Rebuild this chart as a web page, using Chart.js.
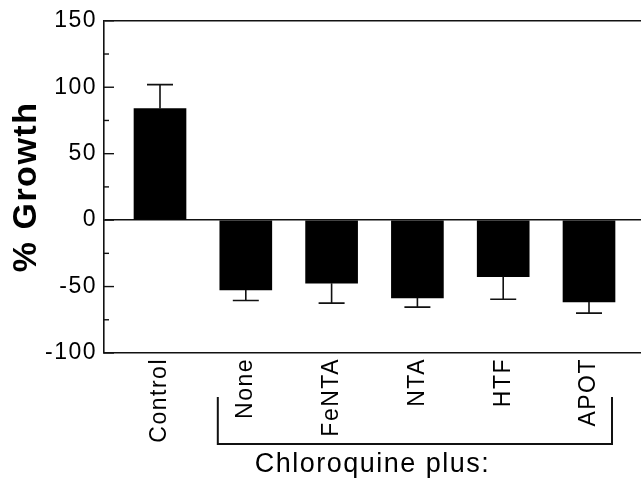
<!DOCTYPE html>
<html><head><meta charset="utf-8">
<script src="https://cdn.jsdelivr.net/npm/chart.js@4.4.1/dist/chart.umd.min.js"></script>
<style>html,body{margin:0;padding:0;background:#fff}#wrap{width:641px;height:483px;position:relative}</style>
</head><body><div id="wrap"><canvas id="c"></canvas></div>
<script>
const categories = ['Control', 'None', 'FeNTA', 'NTA', 'HTF', 'APOT'];
const growth = [84, -52.5, -47.5, -58.5, -42.5, -61.5];
const growthErr = [18, 8, 15, 7, 17, 8.5];
const yMajorTicks = [-100, -50, 0, 50, 100, 150];
const yTitle = '% Growth';
const groupLabel = 'Chloroquine plus:';
const bracketFrom = 1, bracketTo = 5;

const INK = '#111';
const FONT = "'Liberation Sans', Arial, Helvetica, sans-serif";

const spacing = {
  id: 'spacing',
  beforeDraw(chart) { chart.ctx.letterSpacing = '1.5px'; },
  afterDraw(chart) { chart.ctx.letterSpacing = '0px'; }
};

const errorBars = {
  id: 'errorBars',
  afterDatasetsDraw(chart) {
    const ctx = chart.ctx, y = chart.scales.y;
    const meta = chart.getDatasetMeta(0);
    ctx.save();
    ctx.strokeStyle = INK; ctx.lineWidth = 1.6;
    meta.data.forEach((el, i) => {
      const v = growth[i], sign = v >= 0 ? 1 : -1;
      const yEnd = y.getPixelForValue(v + sign * growthErr[i]);
      const cap = el.width / 4;
      ctx.beginPath();
      ctx.moveTo(el.x, el.y); ctx.lineTo(el.x, yEnd);
      ctx.moveTo(el.x - cap, yEnd); ctx.lineTo(el.x + cap, yEnd);
      ctx.stroke();
    });
    ctx.restore();
  }
};

const innerTicks = {
  id: 'innerTicks',
  afterDraw(chart) {
    const ctx = chart.ctx, y = chart.scales.y, a = chart.chartArea;
    ctx.save();
    ctx.strokeStyle = INK; ctx.lineWidth = 1.4;
    y.ticks.forEach(t => {
      const len = yMajorTicks.includes(t.value) ? 10 : 5;
      const py = y.getPixelForValue(t.value);
      ctx.beginPath(); ctx.moveTo(a.left, py); ctx.lineTo(a.left + len, py); ctx.stroke();
    });
    // bracket under the "Chloroquine plus" group
    const x = chart.scales.x;
    const x1 = x.getPixelForValue(bracketFrom) - 28;
    const x2 = x.getPixelForValue(bracketTo) + 23;
    const top = a.bottom + 44, bot = a.bottom + 91;
    ctx.lineWidth = 2;
    ctx.beginPath();
    ctx.moveTo(x1, top); ctx.lineTo(x1, bot); ctx.lineTo(x2, bot); ctx.lineTo(x2, top);
    ctx.stroke();
    ctx.restore();
  }
};

new Chart(document.getElementById('c'), {
  type: 'bar',
  data: {
    datasets: [{
      data: categories.map((c, i) => ({ x: i, y: growth[i] })),
      backgroundColor: '#000',
      borderWidth: 0,
      barThickness: 52
    }]
  },
  options: {
    responsive: true,
    maintainAspectRatio: false,
    animation: false,
    devicePixelRatio: 1,
    layout: { padding: { top: 20, right: 0, bottom: 0, left: 0 } },
    plugins: { legend: { display: false }, tooltip: { enabled: false } },
    scales: {
      x: {
        type: 'linear',
        offset: false,
        min: -0.6527,
        max: 5.606,
        afterBuildTicks: s => { s.ticks = categories.map((c, i) => ({ value: i })); },
        afterFit: s => { s.height = 130; },
        grid: { display: true, offset: false, color: 'transparent', drawTicks: false },
        border: { display: true, color: INK, width: 1.6 },
        ticks: {
          autoSkip: false, minRotation: 90, maxRotation: 90, padding: 5,
          color: '#000', font: { family: FONT, size: 23 },
          callback: v => categories[v]
        },
        title: {
          display: true, text: groupLabel, color: '#000',
          font: { family: FONT, size: 27 }, padding: { top: 0, bottom: 2 }
        }
      },
      y: {
        min: -100, max: 150,
        afterFit: s => { s.width = 104; },
        grid: {
          drawTicks: false,
          lineWidth: 1.6,
          color: c => (c.tick && (c.tick.value === 0 || c.tick.value === 150)) ? INK : 'transparent'
        },
        border: { display: true, color: INK, width: 1.6 },
        ticks: {
          stepSize: 25, padding: 7, color: '#000',
          font: { family: FONT, size: 23 },
          callback: v => yMajorTicks.includes(v) ? String(v) : ''
        },
        title: {
          display: true, text: yTitle, color: '#000',
          font: { family: FONT, size: 34, weight: 'bold' }, padding: { top: 6, bottom: 0 }
        }
      }
    }
  },
  plugins: [spacing, errorBars, innerTicks]
});
</script>
</body></html>
